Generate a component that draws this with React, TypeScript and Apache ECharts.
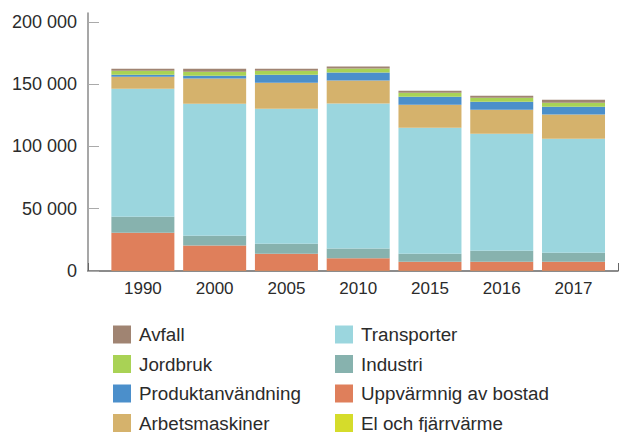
import React, { useEffect, useRef } from "react";
import * as echarts from "echarts";

const years = ["1990", "2000", "2005", "2010", "2015", "2016", "2017"];
const elOchFjarrvarme = [300, 300, 300, 300, 300, 300, 300];
const uppvarmning = [30500, 20100, 13650, 9900, 7200, 7200, 7200];
const industri = [12850, 8000, 8000, 7800, 6400, 8800, 7200];
const transporter = [102800, 106000, 108400, 116500, 101200, 94000, 91600];
const arbetsmaskiner = [9640, 20100, 20900, 18500, 18500, 19300, 19300];
const produktanvandning = [1600, 2400, 6400, 6400, 6400, 6400, 6400];
const jordbruk = [3200, 3200, 3200, 3200, 3200, 3200, 3200];
const avfall = [1600, 2400, 1600, 1600, 1600, 1600, 2400];
const yTicks = [0, 50000, 100000, 150000, 200000];
const legendColumns = [
  ["Avfall", "Jordbruk", "Produktanvändning", "Arbetsmaskiner"],
  ["Transporter", "Industri", "Uppvärmnig av bostad", "El och fjärrvärme"],
];

const FONT = "'Liberation Sans', Arial, Helvetica, sans-serif";

const seriesDefs = [
  { name: "El och fjärrvärme", data: elOchFjarrvarme, color: "#d5dc2b" },
  { name: "Uppvärmnig av bostad", data: uppvarmning, color: "#df7f5b" },
  { name: "Industri", data: industri, color: "#87b2ae" },
  { name: "Transporter", data: transporter, color: "#9bd6de" },
  { name: "Arbetsmaskiner", data: arbetsmaskiner, color: "#d5b26c" },
  { name: "Produktanvändning", data: produktanvandning, color: "#4b8fcb" },
  { name: "Jordbruk", data: jordbruk, color: "#a9d255" },
  { name: "Avfall", data: avfall, color: "#a08472" },
];

const fmt = (v: number) =>
  String(v).replace(/\B(?=(\d{3})+(?!\d))/g, " ");

export default function App() {
  const ref = useRef<HTMLDivElement>(null);
  useEffect(() => {
    if (!ref.current) return;
    const chart = echarts.init(ref.current, undefined, { renderer: "svg" });
    const legends: any[] = [];
    legendColumns.forEach((col, ci) => {
      col.forEach((name, ri) => {
        legends.push({
          orient: "vertical",
          left: ci === 0 ? 113 : 335,
          top: 325 + ri * 29.5,
          itemWidth: 18,
          itemHeight: 18,
          icon: "rect",
          selectedMode: false,
          padding: 0,
          data: [name],
          textStyle: {
            fontFamily: FONT,
            fontSize: 18.8,
            color: "#2b2b2b",
            padding: [0, 0, 0, 3],
          },
        });
      });
    });
    chart.setOption({
      animation: false,
      backgroundColor: "#ffffff",
      grid: [
        { left: 88, right: 2, top: 13, bottom: 161 },
        { left: 107, right: 10.6, top: 13, bottom: 161 },
      ],
      legend: legends,
      xAxis: [
        {
          type: "value",
          gridIndex: 0,
          min: 0,
          max: 1,
          interval: 1,
          axisLine: { show: true, lineStyle: { color: "#666", width: 1.5 } },
          axisTick: { show: true, inside: true, length: 8, lineStyle: { color: "#666" } },
          axisLabel: { show: false },
          splitLine: { show: false },
        },
        {
          type: "category",
          gridIndex: 1,
          data: years,
          axisLine: { show: false },
          axisTick: { show: false },
          axisLabel: { fontFamily: FONT, fontSize: 17, color: "#2b2b2b", margin: 9 },
          splitLine: { show: false },
        },
      ],
      yAxis: [
        {
          type: "value",
          gridIndex: 0,
          min: 0,
          max: 207200,
          interval: 50000,
          axisLine: { show: true, lineStyle: { color: "#8a8a8a", width: 1.5 } },
          axisTick: {
            show: true,
            inside: true,
            length: 11,
            customValues: yTicks,
            lineStyle: { color: "#aaaaaa" },
          },
          axisLabel: {
            customValues: yTicks,
            formatter: (v: number) => fmt(v),
            fontFamily: FONT,
            fontSize: 18,
            color: "#2b2b2b",
            margin: 11,
          },
          splitLine: { show: false },
        },
        {
          type: "value",
          gridIndex: 1,
          min: 0,
          max: 207200,
          show: false,
          splitLine: { show: false },
        },
      ],
      series: seriesDefs.map((s) => ({
        name: s.name,
        type: "bar",
        xAxisIndex: 1,
        yAxisIndex: 1,
        stack: "total",
        barWidth: 63,
        data: s.data,
        itemStyle: { color: s.color },
      })),
    });
    return () => chart.dispose();
  }, []);
  return (
    <div
      ref={ref}
      style={{ position: "absolute", left: 0, top: 0, width: 620, height: 432 }}
    />
  );
}
